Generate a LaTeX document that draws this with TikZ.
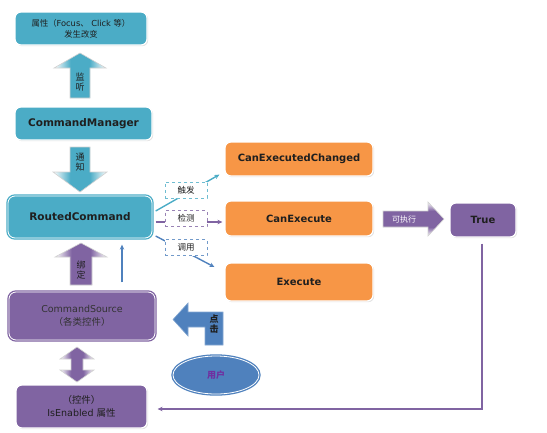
\documentclass[tikz,border=0pt]{standalone}
\usepackage{fontspec}
\setmainfont{DejaVu Sans}
\newfontfamily\cjk{Noto Sans CJK SC}
\usetikzlibrary{shadows,arrows.meta,calc,shapes.geometric}
\definecolor{aqua}{HTML}{4BACC6}
\definecolor{orng}{HTML}{F79646}
\definecolor{purp}{HTML}{8064A2}
\definecolor{blu}{HTML}{4F81BD}
\definecolor{txt}{HTML}{1F1F1F}
\definecolor{usr}{HTML}{7030A0}
\pgfdeclarehorizontalshading{aquafade}{100bp}{color(0bp)=(white); color(25bp)=(white); color(41bp)=(aqua); color(59bp)=(aqua); color(75bp)=(white); color(100bp)=(white)}
\pgfdeclarehorizontalshading{purpfade}{100bp}{color(0bp)=(white); color(25bp)=(white); color(41bp)=(purp); color(59bp)=(purp); color(75bp)=(white); color(100bp)=(white)}
\pgfdeclareverticalshading{purpfadev}{100bp}{color(0bp)=(white); color(25bp)=(white); color(38bp)=(purp); color(62bp)=(purp); color(75bp)=(white); color(100bp)=(white)}
\newcommand{\zh}[1]{{\cjk #1}}
\tikzset{
  box/.style={rounded corners=6pt, draw=white, line width=1.2pt,
    drop shadow={shadow xshift=1.2pt, shadow yshift=-1.2pt, fill=black!22},
    text=txt, align=center, inner sep=0pt},
  dbl/.style={rounded corners=7pt, line width=1.3pt, double=white, double distance=0.8pt,
    drop shadow={shadow xshift=1.2pt, shadow yshift=-1.2pt, fill=black!22},
    text=txt, align=center, inner sep=0pt},
  bold/.style={font=\bfseries\fontsize{10}{12}\selectfont},
  lab/.style={draw, dashed, fill=white, line width=0.7pt, minimum width=42pt, minimum height=16pt,
    inner sep=0pt, font=\cjk\fontsize{8.5}{10}\selectfont, text=txt},
  blockedge/.style={draw=black!18, line width=0.6pt},
  vtext/.style={font=\cjk\fontsize{9}{9.5}\selectfont, align=center, text=txt, inner sep=0pt},
  thin/.style={line width=1.4pt, -{Stealth[length=5pt,width=4.5pt]}}
}
\begin{document}
\begin{tikzpicture}[x=1pt,y=-1pt]
\useasboundingbox (0,0) rectangle (547,432);

% left column boxes
\node[box, fill=aqua, minimum width=132pt, minimum height=33pt,
  font=\fontsize{8.3}{11}\selectfont] (attr) at (81,28.5)
  {\zh{属性（}Focus\zh{、} Click \zh{等）}\\\zh{发生改变}};
\node[box, fill=aqua, minimum width=137pt, minimum height=33pt,
  font=\bfseries\fontsize{10.5}{12}\selectfont] (cm) at (83.5,123.5) {CommandManager};
\node[dbl, draw=aqua, fill=aqua, minimum width=144pt, minimum height=42pt,
  font=\bfseries\fontsize{10.5}{12}\selectfont] (rc) at (80,217) {RoutedCommand};
\node[dbl, draw=purp, fill=purp, minimum width=146pt, minimum height=48pt,
  font=\fontsize{9.5}{13}\selectfont, text=black!80] (cs) at (82,316)
  {CommandSource\\\zh{（各类控件）}};
\node[box, fill=purp, minimum width=131pt, minimum height=43pt,
  font=\fontsize{9.5}{12.5}\selectfont] (ie) at (81.5,406.5)
  {\zh{（控件）}\\IsEnabled \zh{属性}};

% orange boxes
\node[box, fill=orng, minimum width=148pt, minimum height=34pt, bold] (cec) at (299,159) {CanExecutedChanged};
\node[box, fill=orng, minimum width=148pt, minimum height=35pt, bold] (ce) at (299,218.5) {CanExecute};
\node[box, fill=orng, minimum width=148pt, minimum height=38pt, bold] (ex) at (299,282) {Execute};
\node[box, fill=purp, minimum width=66pt, minimum height=34pt, bold] (tr) at (483,220) {True};

% user ellipse
\node[ellipse, draw=blu, fill=blu, line width=1.3pt, double=white, double distance=0.8pt,
  minimum width=86pt, minimum height=38pt, inner sep=0pt,
  font=\cjk\bfseries\fontsize{9}{10}\selectfont, text=usr] (usr) at (216,375) {用户};

% block arrows
\path[blockedge, shading=aquafade] (70,98) -- (70,68) -- (54,68) -- (80,53) -- (106,68) -- (90,68) -- (90,98) -- cycle;
\node[vtext] (t1) at (80,82) {监\\听};
\path[blockedge, shading=aquafade] (70,147) -- (70,172) -- (53,172) -- (80,192) -- (107,172) -- (90,172) -- (90,147) -- cycle;
\node[vtext] (t2) at (80,162) {通\\知};
\path[blockedge, shading=purpfade] (70,285) -- (70,257) -- (55,257) -- (81,243) -- (107,257) -- (92,257) -- (92,285) -- cycle;
\node[vtext] (t3) at (81,270) {绑\\定};
\path[blockedge, shading=purpfade] (77,347) -- (94,359) -- (83,359) -- (83,370) -- (94,370) -- (77,382) -- (60,370) -- (71,370) -- (71,359) -- (60,359) -- cycle;
\path[blockedge, shading=purpfadev] (383,211) -- (428,211) -- (428,202) -- (444,219) -- (428,236) -- (428,227) -- (383,227) -- cycle;
\node[font=\cjk\fontsize{8}{9}\selectfont, text=white, inner sep=0pt] (t4) at (404,219) {可执行};
\path[draw=blu!70, line width=0.6pt, fill=blu] (173,319.5) -- (188,303) -- (188,312) -- (223,312) -- (223,345) -- (205,345) -- (205,327) -- (188,327) -- (188,336) -- cycle;
\node[vtext, font=\cjk\bfseries\fontsize{9}{9.5}\selectfont] (t5) at (214,324) {点\\击};

% thin connectors
\draw[thin, aqua] ($(rc.east)+(3,-6)$) -- ($(cec.south west)+(-5,-2)$);
\draw[thin, purp] ($(rc.east)+(3,5)$) coordinate (s2) -- ($(s2 -| ce.west)+(-2,0)$);
\draw[thin, blu] ($(rc.east)+(3,19)$) -- ($(ex.west)+(-10,-15)$);
\draw[thin, purp] ($(tr.south)+(-1,6)$) |- ($(ie.east)+(10,2.5)$);
\draw[thin, blu] ($(cs.north)+(40,-9)$) -- ($(rc.south)+(42,6)$);

% dashed labels
\node[lab, draw=aqua!80] (l1) at (186,190) {触发};
\node[lab, draw=purp!80] (l2) at (186,218.5) {检测};
\node[lab, draw=blu!80] (l3) at (186,247.5) {调用};
\end{tikzpicture}
\end{document}
